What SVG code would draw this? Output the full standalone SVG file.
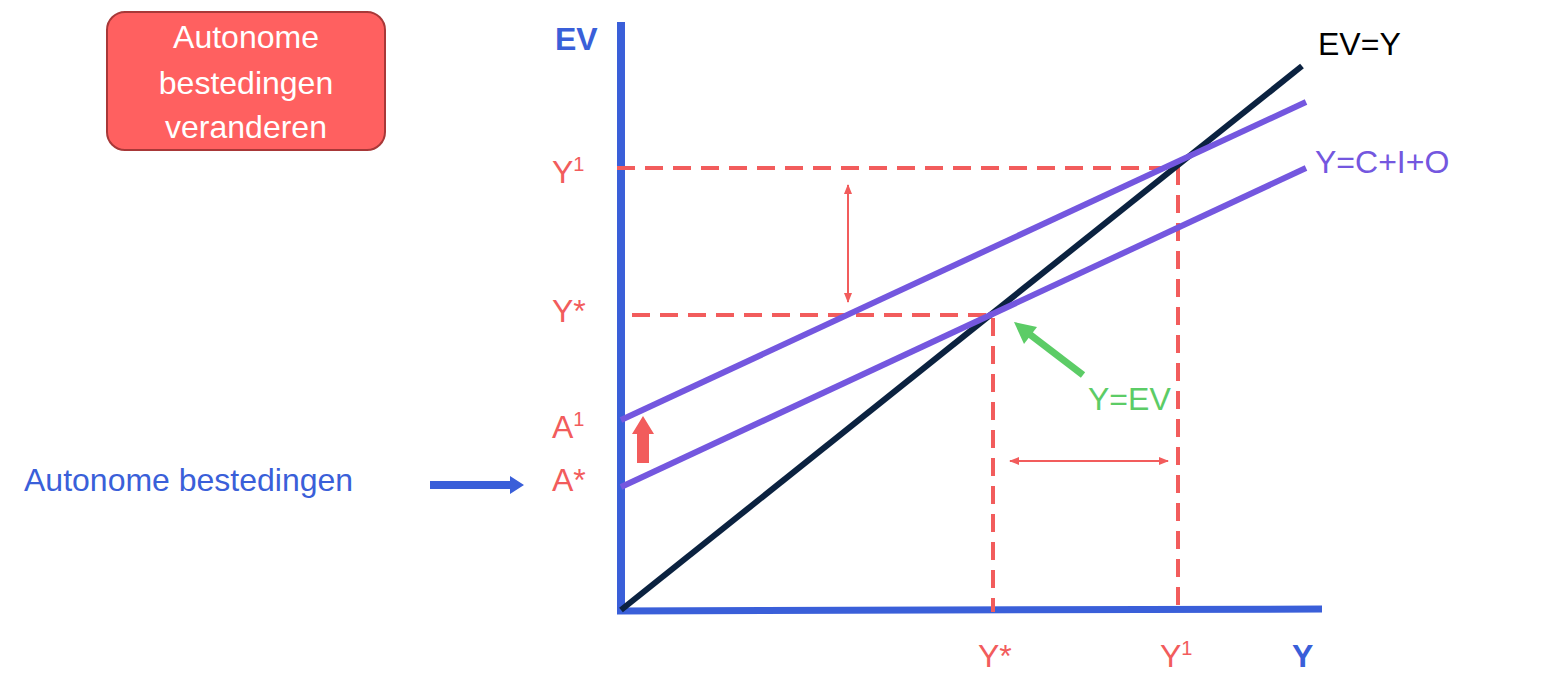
<svg xmlns="http://www.w3.org/2000/svg" width="1552" height="699" viewBox="0 0 1552 699">
<style>
text{font-family:"Liberation Sans",Arial,sans-serif;font-size:32px}
.r{fill:#f25c5c}.b{fill:#3a5fd9}
.dash{stroke:#f25c5c;stroke-width:4;stroke-dasharray:18,10;fill:none}
.pl{stroke:#7457df;stroke-width:6}
</style>
<defs>
<marker id="ra" markerWidth="10" markerHeight="10" refX="9" refY="5" orient="auto-start-reverse" markerUnits="userSpaceOnUse"><path d="M0,1 L10,5 L0,9z" fill="#f25c5c"/></marker>
</defs>
<rect width="1552" height="699" fill="#fff"/>
<g id="box"><rect x="107" y="12" width="278" height="138" rx="18" fill="#ff6060" stroke="#a83838" stroke-width="2"/>
<text x="246" y="48" fill="#fff" text-anchor="middle">Autonome</text>
<text x="246" y="94" fill="#fff" text-anchor="middle">bestedingen</text>
<text x="246" y="138" fill="#fff" text-anchor="middle">veranderen</text></g>
<g id="connectors">
<line x1="621" y1="22" x2="621" y2="614" stroke="#3a5fd9" stroke-width="8"/>
<line x1="617" y1="611" x2="1322" y2="609" stroke="#3a5fd9" stroke-width="7"/>
<path class="dash" d="M617,168 H1178 V612 M632,315 H993 V612"/>
<line x1="621" y1="610" x2="1302" y2="66" stroke="#0b2240" stroke-width="6"/>
<line class="pl" x1="621" y1="487" x2="1306" y2="168"/>
<line class="pl" x1="621" y1="420" x2="1306" y2="102"/>
<line x1="848" y1="185" x2="848" y2="302" stroke="#f25c5c" stroke-width="2" marker-start="url(#ra)" marker-end="url(#ra)"/>
<line x1="1010" y1="461" x2="1168" y2="461" stroke="#f25c5c" stroke-width="2" marker-start="url(#ra)" marker-end="url(#ra)"/>
<line x1="1083" y1="375" x2="1028" y2="333" stroke="#5ccc66" stroke-width="7"/>
<path d="M1014,322 L1037,327 L1024,344z" fill="#5ccc66"/>
<path d="M637,463 V434 H632 L643,416 L654,434 H649 V463z" fill="#f25c5c"/>
<path d="M430,481 H510 V476 L524,485 L510,494 V489 H430z" fill="#3a5fd9"/>
</g>
<g id="labels">
<text x="555" y="50" class="b" font-weight="bold">EV</text>
<text x="1292" y="667" class="b" font-weight="bold">Y</text>
<text x="1318" y="55" fill="#000">EV=Y</text>
<text x="1315" y="173" fill="#7457df">Y=C+I+O</text>
<text x="1088" y="410" fill="#5ccc66">Y=EV</text>
<text x="552" y="183" class="r">Y<tspan font-size="20" dy="-12">1</tspan></text>
<text x="552" y="322" class="r">Y*</text>
<text x="552" y="438" class="r">A<tspan font-size="20" dy="-12">1</tspan></text>
<text x="552" y="491" class="r">A*</text>
<text x="978" y="667" class="r">Y*</text>
<text x="1160" y="667" class="r">Y<tspan font-size="20" dy="-12">1</tspan></text>
<text x="24" y="491" class="b">Autonome bestedingen</text>
</g>
</svg>
